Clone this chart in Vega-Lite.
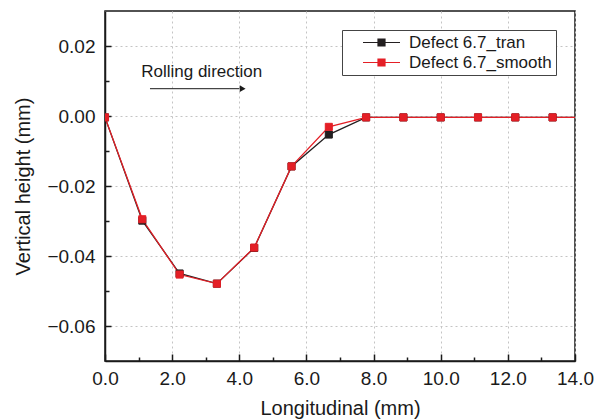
{
  "$schema": "https://vega.github.io/schema/vega-lite/v6.json",
  "width": 470,
  "height": 350,
  "autosize": {"type": "none"},
  "padding": {"left": 105, "top": 11, "right": 21, "bottom": 59},
  "background": "white",
  "config": {
    "view": {"stroke": "#1a1a1a", "strokeWidth": 1.5},
    "font": "Liberation Sans",
    "axis": {
      "labelFont": "Liberation Sans",
      "titleFont": "Liberation Sans",
      "labelFontSize": 19,
      "titleFontSize": 20,
      "titleFontWeight": "normal",
      "labelColor": "#1a1a1a",
      "titleColor": "#1a1a1a",
      "domainColor": "#1a1a1a",
      "tickColor": "#1a1a1a",
      "domainWidth": 1.5,
      "tickWidth": 1.5,
      "gridColor": "#c4c4c4",
      "gridDash": [2, 3],
      "gridWidth": 1,
      "labelFlush": false
    },
    "legend": {
      "title": null,
      "orient": "none",
      "legendX": 237,
      "legendY": 19,
      "symbolType": "M-2.64,0H2.64M-0.5,-0.5H0.5V0.5H-0.5Z",
      "symbolSize": 196,
      "symbolStrokeWidth": 1.2,
      "symbolOffset": 27,
      "labelOffset": 19,
      "labelFontSize": 17,
      "labelFont": "Liberation Sans",
      "labelColor": "#1a1a1a",
      "strokeColor": "#444444",
      "fillColor": "white",
      "padding": 4,
      "rowPadding": 2
    }
  },
  "datasets": {
    "series": [
      {"x": 0, "y": -0.0004, "series": "Defect 6.7_tran"},
      {"x": 1.111, "y": -0.0299, "series": "Defect 6.7_tran"},
      {"x": 2.222, "y": -0.0450, "series": "Defect 6.7_tran"},
      {"x": 3.333, "y": -0.0479, "series": "Defect 6.7_tran"},
      {"x": 4.444, "y": -0.0377, "series": "Defect 6.7_tran"},
      {"x": 5.556, "y": -0.0144, "series": "Defect 6.7_tran"},
      {"x": 6.667, "y": -0.0053, "series": "Defect 6.7_tran"},
      {"x": 7.778, "y": -0.0004, "series": "Defect 6.7_tran"},
      {"x": 8.889, "y": -0.0004, "series": "Defect 6.7_tran"},
      {"x": 10.0, "y": -0.0004, "series": "Defect 6.7_tran"},
      {"x": 11.111, "y": -0.0004, "series": "Defect 6.7_tran"},
      {"x": 12.222, "y": -0.0004, "series": "Defect 6.7_tran"},
      {"x": 13.333, "y": -0.0004, "series": "Defect 6.7_tran"},
      {"x": 14.444, "y": -0.0004, "series": "Defect 6.7_tran"},
      {"x": 0, "y": -0.0004, "series": "Defect 6.7_smooth"},
      {"x": 1.111, "y": -0.0295, "series": "Defect 6.7_smooth"},
      {"x": 2.222, "y": -0.0453, "series": "Defect 6.7_smooth"},
      {"x": 3.333, "y": -0.0479, "series": "Defect 6.7_smooth"},
      {"x": 4.444, "y": -0.0376, "series": "Defect 6.7_smooth"},
      {"x": 5.556, "y": -0.0144, "series": "Defect 6.7_smooth"},
      {"x": 6.667, "y": -0.0031, "series": "Defect 6.7_smooth"},
      {"x": 7.778, "y": -0.0004, "series": "Defect 6.7_smooth"},
      {"x": 8.889, "y": -0.0004, "series": "Defect 6.7_smooth"},
      {"x": 10.0, "y": -0.0004, "series": "Defect 6.7_smooth"},
      {"x": 11.111, "y": -0.0004, "series": "Defect 6.7_smooth"},
      {"x": 12.222, "y": -0.0004, "series": "Defect 6.7_smooth"},
      {"x": 13.333, "y": -0.0004, "series": "Defect 6.7_smooth"},
      {"x": 14.444, "y": -0.0004, "series": "Defect 6.7_smooth"}
    ],
    "notes": [{"x": 2.88, "y": 0.0127, "label": "Rolling direction"}],
    "arrow": [{"x": 1.34, "x2": 4.0, "y": 0.0078}],
    "head": [{"x": 4.1, "y": 0.0078}]
  },
  "resolve": {"axis": {"x": "independent", "y": "independent"}},
  "layer": [
    {
      "data": {"name": "series"},
      "mark": {"type": "line", "strokeWidth": 1.3, "clip": true},
      "encoding": {
        "x": {
          "field": "x", "type": "quantitative",
          "scale": {"domain": [0, 14], "nice": false, "zero": false},
          "axis": {
            "values": [0, 2, 4, 6, 8, 10, 12, 14],
            "format": ".1f",
            "ticks": false,
            "labelPadding": 8,
            "labelFlush": false,
            "grid": true,
            "title": "Longitudinal (mm)",
            "titlePadding": 10,
            "orient": "bottom"
          }
        },
        "y": {
          "field": "y", "type": "quantitative",
          "scale": {"domain": [-0.07, 0.03], "nice": false, "zero": false},
          "axis": {
            "values": [-0.06, -0.04, -0.02, 0, 0.02],
            "format": ".2f",
            "ticks": false,
            "labelPadding": 10,
            "labelFlush": false,
            "grid": true,
            "title": "Vertical height (mm)",
            "titlePadding": 13,
            "orient": "left"
          }
        },
        "stroke": {
          "field": "series", "type": "nominal",
          "scale": {"domain": ["Defect 6.7_tran", "Defect 6.7_smooth"], "range": ["#231f20", "#e41f26"]}
        }
      }
    },
    {
      "data": {"name": "series"},
      "mark": {"type": "point", "shape": "square", "filled": true, "size": 50, "strokeWidth": 1, "opacity": 1, "clip": true},
      "encoding": {
        "x": {
          "field": "x", "type": "quantitative",
          "axis": {"values": [0, 2, 4, 6, 8, 10, 12, 14], "labels": false, "tickSize": -7, "grid": false, "domain": false, "title": null, "orient": "bottom"}
        },
        "y": {
          "field": "y", "type": "quantitative",
          "axis": {"values": [-0.06, -0.04, -0.02, 0, 0.02], "labels": false, "tickSize": -6, "grid": false, "domain": false, "title": null, "orient": "left"}
        },
        "fill": {
          "field": "series", "type": "nominal",
          "scale": {"domain": ["Defect 6.7_tran", "Defect 6.7_smooth"], "range": ["#231f20", "#e41f26"]}
        },
        "stroke": {
          "field": "series", "type": "nominal"
        }
      }
    },
    {
      "data": {"name": "notes"},
      "mark": {"type": "text", "fontSize": 17, "font": "Liberation Sans", "color": "#1a1a1a"},
      "encoding": {
        "x": {
          "field": "x", "type": "quantitative",
          "axis": {"values": [1, 3, 5, 7, 9, 11, 13], "labels": false, "tickSize": -4, "grid": false, "domain": false, "title": null, "orient": "bottom"}
        },
        "y": {
          "field": "y", "type": "quantitative",
          "axis": {"values": [-0.05, -0.03, -0.01, 0.01], "labels": false, "tickSize": -4, "grid": false, "domain": false, "title": null, "orient": "left"}
        },
        "text": {"field": "label"}
      }
    },
    {
      "data": {"name": "arrow"},
      "mark": {"type": "rule", "color": "#1a1a1a", "strokeWidth": 1},
      "encoding": {
        "x": {"field": "x", "type": "quantitative", "axis": null},
        "x2": {"field": "x2"},
        "y": {"field": "y", "type": "quantitative", "axis": null}
      }
    },
    {
      "data": {"name": "head"},
      "mark": {"type": "point", "shape": "triangle-right", "filled": true, "size": 45, "color": "#1a1a1a", "opacity": 1},
      "encoding": {
        "x": {"field": "x", "type": "quantitative", "axis": null},
        "y": {"field": "y", "type": "quantitative", "axis": null}
      }
    }
  ]
}
